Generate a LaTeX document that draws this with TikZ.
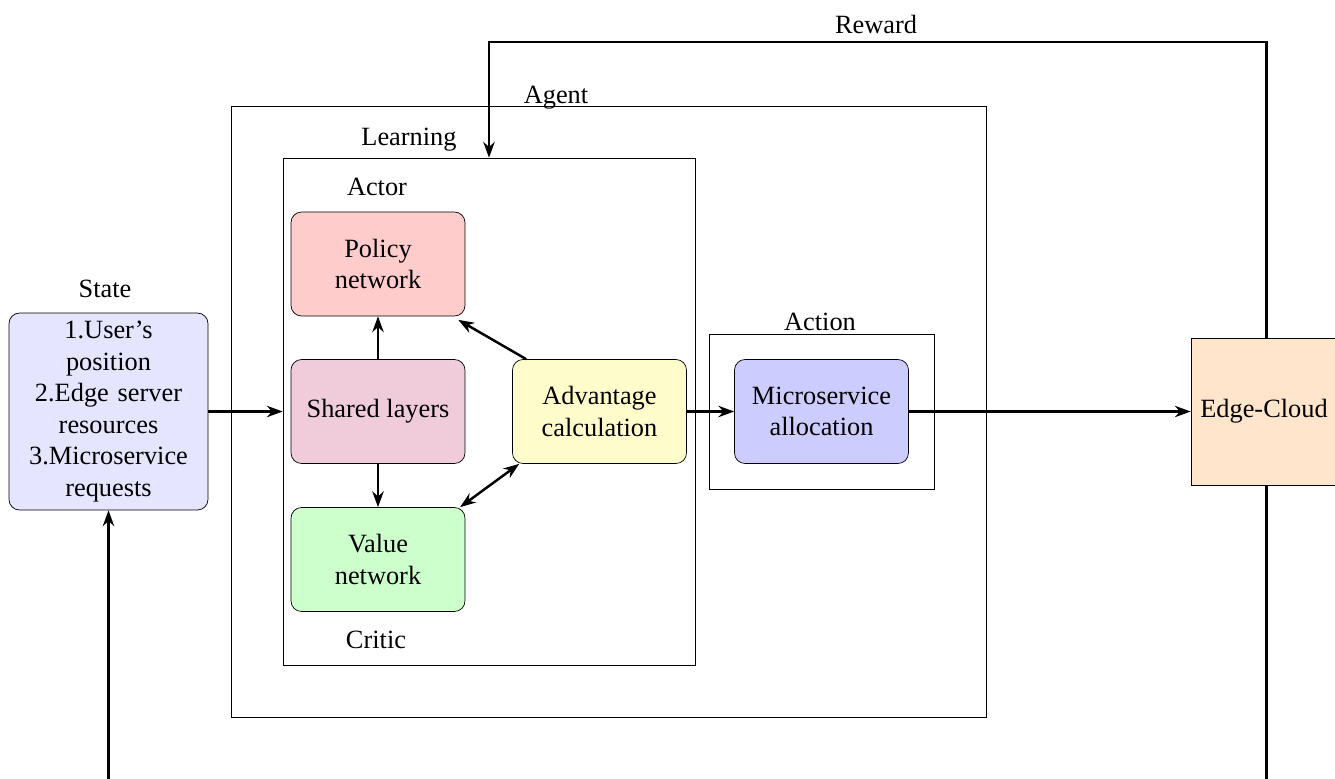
\documentclass[tikz,border=0pt]{standalone}
\usepackage{fontspec}
\setmainfont{Liberation Serif}
\usetikzlibrary{arrows.meta}

\definecolor{sharedpink}{RGB}{240,204,218}

\tikzset{
  block/.style={draw,rounded corners=6pt,align=center,inner sep=2pt,
    minimum width=3.48cm,minimum height=2.08cm},
  frame/.style={draw,line width=0.4pt},
  flow/.style={-{Stealth[length=9pt,width=6.5pt]},line width=1.4pt},
}

\begin{document}
\begin{tikzpicture}[x=0.02cm,y=-0.02cm,font=\fontsize{15}{18}\selectfont]

\clip (0,0) rectangle (1335,778);

\node[frame,minimum width=15.1cm,minimum height=12.22cm] (agent) at (608.5,411.5) {};
\node[frame,minimum width=8.24cm,minimum height=10.14cm] (learning) at (489,411.5) {};
\node[frame,minimum width=4.5cm,minimum height=3.1cm] (action) at (821.5,411.5) {};

\node (lagent) at (556,98) {Agent};
\node (llearning) at (409,140) {Learning};
\node (lactor) at (377,187) {Actor};
\node (lcritic) at (376,640) {Critic};
\node (laction) at (820,322) {Action};
\node (lstate) at (105,289) {State};
\node (lreward) at (876,24) {Reward};

\node[block,fill=blue!10,minimum width=3.98cm,minimum height=3.94cm,text width=3.7cm]
  (state) at (108.5,411.5) {1.User's\\position\\2.Edge server\\resources\\3.Microservice\\requests};

\node[block,fill=red!20] (policy) at (378,264) {Policy\\network};
\node[block,fill=sharedpink] (shared) at (378,411.5) {Shared layers};
\node[block,fill=green!20] (value) at (378,559.5) {Value\\network};
\node[block,fill=yellow!20] (adv) at (599.5,411.5) {Advantage\\calculation};
\node[block,fill=blue!20] (alloc) at (821.5,411.5) {Microservice\\allocation};
\node[draw,fill=orange!20,minimum width=2.92cm,minimum height=2.94cm] (cloud) at (1264,411.5) {Edge-Cloud};

\coordinate (rtop) at (876,42);
\coordinate (rbot) at (700,800);

\draw[flow] (state.east) -- (learning.west);
\draw[flow] (shared) -- (policy);
\draw[flow] (shared) -- (value);
\draw[flow] ([xshift=8pt,yshift=0pt]adv.north west) -- ([xshift=-4pt,yshift=-2pt]policy.south east);
\draw[flow,{Stealth[length=9pt,width=6.5pt]}-{Stealth[length=9pt,width=6.5pt]}]
  ([xshift=-3pt]value.north east) -- ([xshift=4pt]adv.south west);
\draw[flow] (adv.east) -- (alloc.west);
\draw[flow] (alloc.east) -- (cloud.west);

\draw[flow] ([xshift=1.5pt]cloud.north) |- (rtop) -| (learning.north);
\draw[flow] ([xshift=1.5pt]cloud.south) |- (rbot) -| (state.south);

\end{tikzpicture}
\end{document}
